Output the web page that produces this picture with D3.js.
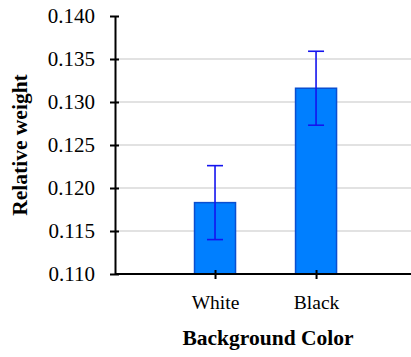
<!DOCTYPE html>
<html>
<head>
<meta charset="utf-8">
<script src="https://cdn.jsdelivr.net/npm/d3@7"></script>
<style>
  body { margin: 0; background: #fff; }
</style>
</head>
<body>
<svg id="chart" width="411" height="357"></svg>
<script>
// data
var colors = ['White', 'Black'];
var weights = [0.1183, 0.1316];
var errors = [0.0043, 0.0043];
var yTicks = [0.110, 0.115, 0.120, 0.125, 0.130, 0.135, 0.140];

var serif = "font-family:'Liberation Serif', serif;";

var svg = d3.select('#chart');
var plotL = 115, plotR = 411, plotT = 16, plotB = 274;

var x = d3.scalePoint()
  .domain(colors)
  .range([plotL, plotR])
  .padding(0.965)
  .align(0.513);

var y = d3.scaleLinear()
  .domain([0.110, 0.140])
  .range([plotB, plotT]);

var barW = 41;

// gridlines
svg.append('g')
  .selectAll('line')
  .data(yTicks.filter(function(t) { return t > 0.110 && t < 0.140; }))
  .join('line')
  .attr('x1', plotL).attr('x2', plotR)
  .attr('y1', function(d) { return y(d); })
  .attr('y2', function(d) { return y(d); })
  .attr('stroke', '#d9d9d9')
  .attr('stroke-width', 1.5);

// bars
svg.append('g')
  .selectAll('rect')
  .data(colors)
  .join('rect')
  .attr('x', function(d) { return x(d) - barW / 2; })
  .attr('y', function(d, i) { return y(weights[i]); })
  .attr('width', barW)
  .attr('height', function(d, i) { return y(0.110) - y(weights[i]); })
  .attr('fill', '#007fff')
  .attr('stroke', '#0a4fd0')
  .attr('stroke-width', 1.5);

// error bars
var eb = svg.append('g')
  .selectAll('g')
  .data(colors)
  .join('g')
  .attr('stroke', '#1414ee')
  .attr('stroke-width', 1.6);

eb.append('line')
  .attr('x1', function(d) { return x(d); })
  .attr('x2', function(d) { return x(d); })
  .attr('y1', function(d, i) { return y(weights[i] + errors[i]); })
  .attr('y2', function(d, i) { return y(weights[i] - errors[i]); });

[1, -1].forEach(function(s) {
  eb.append('line')
    .attr('x1', function(d) { return x(d) - 8; })
    .attr('x2', function(d) { return x(d) + 8; })
    .attr('y1', function(d, i) { return y(weights[i] + s * errors[i]); })
    .attr('y2', function(d, i) { return y(weights[i] + s * errors[i]); });
});

// y axis
var yAxis = svg.append('g')
  .attr('transform', 'translate(' + plotL + ',0)')
  .call(d3.axisLeft(y).tickValues(yTicks).tickFormat(d3.format('.3f'))
    .tickSizeInner(5).tickSizeOuter(0).tickPadding(15))
  .attr('font-family', 'Liberation Serif');
yAxis.select('.domain').attr('stroke', '#000').attr('stroke-width', 2);
yAxis.selectAll('.tick line').attr('x2', 4).attr('x1', -5).attr('stroke-width', 2);
yAxis.selectAll('.tick text')
  .attr('style', serif + 'font-size:21px')
  .attr('fill', '#000');

// x axis
var xAxis = svg.append('g')
  .attr('transform', 'translate(0,' + plotB + ')')
  .call(d3.axisBottom(x).tickSizeInner(5).tickSizeOuter(0).tickPadding(16))
  .attr('font-family', 'Liberation Serif');
xAxis.select('.domain').attr('d', 'M' + plotL + ',0H' + plotR)
  .attr('stroke', '#000').attr('stroke-width', 2);
xAxis.selectAll('.tick line').attr('y1', -4).attr('y2', 5).attr('stroke-width', 2);
xAxis.selectAll('.tick text')
  .attr('style', serif + 'font-size:19.5px')
  .attr('fill', '#000');

// axis titles
svg.append('text')
  .attr('transform', 'translate(27,' + ((plotT + plotB) / 2) + ') rotate(-90)')
  .attr('text-anchor', 'middle')
  .attr('style', serif + 'font-size:21.5px;font-weight:bold')
  .text('Relative weight');

svg.append('text')
  .attr('x', 268)
  .attr('y', 345)
  .attr('text-anchor', 'middle')
  .attr('style', serif + 'font-size:21.5px;font-weight:bold')
  .text('Background Color');
</script>
</body>
</html>
